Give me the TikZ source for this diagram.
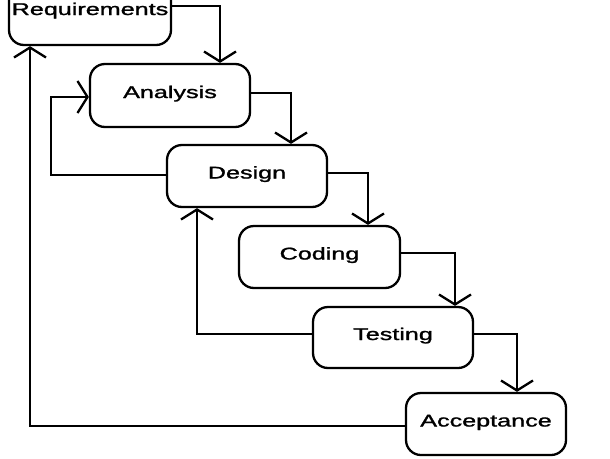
\documentclass[tikz,border=0pt]{standalone}
\usepackage{fontspec}
\usepackage{graphicx}
\setmainfont{Liberation Sans}[FakeBold=1.2]
\usetikzlibrary{arrows.meta}
% wide lettering of the stage names
\newcommand{\stagetext}[1]{\scalebox{1.48}[1]{#1}}
\begin{document}
\begin{tikzpicture}[x=1pt,y=-1pt,
  stagebox/.style={draw,line width=2.3pt,rounded corners=15pt,inner sep=0pt,
    font=\fontsize{17}{20}\selectfont,text height=12pt,text depth=7pt},
  flow/.style={line width=2.3pt,-{Straight Barb[length=10pt,width=32pt]}}]
\useasboundingbox (0,0) rectangle (610,458);
\clip (0,0) rectangle (610,458);
% stages of the waterfall
\node[stagebox,minimum width=162pt,minimum height=65pt] (req) at (90,12.5) {\stagetext{Requirements}};
\node[stagebox,minimum width=160pt,minimum height=63pt] (ana) at (170,95.5) {\stagetext{Analysis}};
\node[stagebox,minimum width=160pt,minimum height=62pt] (des) at (247,176) {\stagetext{Design}};
\node[stagebox,minimum width=161pt,minimum height=62pt] (cod) at (319.5,257) {\stagetext{Coding}};
\node[stagebox,minimum width=160pt,minimum height=61pt] (tst) at (393,337.5) {\stagetext{Testing}};
\node[stagebox,minimum width=160pt,minimum height=62pt] (acc) at (486,424) {\stagetext{Acceptance}};
% forward flow
\draw[flow] ([yshift=6.5pt]req.east) -| ([xshift=50pt]ana.north);
\draw[flow] ([yshift=2.5pt]ana.east) -| ([xshift=44pt]des.north);
\draw[flow] ([yshift=3pt]des.east) -| ([xshift=48.5pt]cod.north);
\draw[flow] ([yshift=4pt]cod.east) -| ([xshift=62pt]tst.north);
\draw[flow] ([yshift=3.5pt]tst.east) -| ([xshift=31pt]acc.north);
% feedback loops
\draw[flow] ([yshift=1pt]des.west) -- ++(-115,0) |- ([yshift=-1.5pt]ana.west);
\draw[flow] ([yshift=3.5pt]tst.west) -| ([xshift=-50pt]des.south);
\draw[flow] ([yshift=-2pt]acc.west) -| ([xshift=-60pt]req.south);
\end{tikzpicture}
\end{document}
